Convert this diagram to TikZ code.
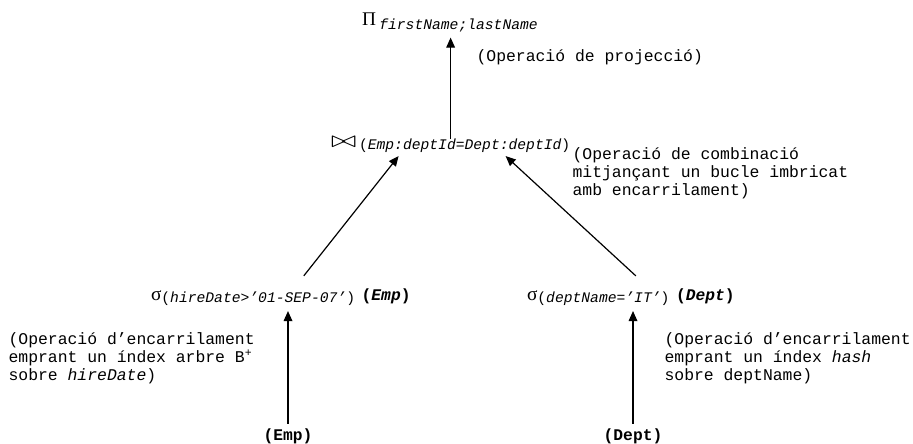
\documentclass[tikz,border=0pt]{standalone}
\usepackage{fontspec}
\setmainfont{Liberation Serif}
\setmonofont{Liberation Mono}
\usetikzlibrary{arrows.meta, calc, positioning}

\newcommand{\notefont}{\ttfamily\fontsize{12.3}{13.5}\selectfont}
\newcommand{\subfont}{\ttfamily\itshape\fontsize{11}{12}\selectfont}
\newcommand{\relfont}{\ttfamily\bfseries\fontsize{12.2}{13}\selectfont}
\newcommand{\opfont}{\fontsize{14.5}{15}\selectfont}
\newcommand{\subpar}[1]{\raisebox{-2pt}{\subfont{\upshape(}#1{\upshape)}}}

\tikzset{
  note/.style={anchor=west, inner sep=0pt, align=left, font=\notefont},
  op/.style={anchor=base west, inner sep=0pt, outer xsep=0pt, outer ysep=4pt},
  rel/.style={inner sep=3pt, font=\relfont},
}

\begin{document}
\begin{tikzpicture}[x=0.75pt, y=-0.75pt, >={Triangle[length=7.5pt,width=6.5pt]}, line width=0.9pt]
    \useasboundingbox (0,0) rectangle (913,443);

    % Operations
    \node[op] (proj) at (362,25) {{\opfont Π}\hspace{2.5pt}\raisebox{-3.5pt}{\subfont firstName;lastName}};
    \node[op] (join) at (331,147) {\resizebox{19pt}{8pt}{$\bowtie$}\hspace{2pt}\subpar{Emp:deptId=Dept:deptId}};
    \node[op] (selEmp) at (151,300) {{\opfont σ}\subpar{hireDate>’01-SEP-07’}\hspace{5pt}{\relfont(\textit{Emp})}};
    \node[op] (selDept) at (527,300) {{\opfont σ}\subpar{deptName=’IT’}\hspace{5pt}{\relfont(\textit{Dept})}};

    % Relations
    \node[rel] (emp) at (288,436) {(Emp)};
    \node[rel] (dept) at (633,436) {(Dept)};

    % Notes
    \node[note] (projNote) at (476,57) {(Operació de projecció)};
    \node[note] (joinNote) at (572,173) {(Operació de combinació\\mitjançant un bucle imbricat\\amb encarrilament)};
    \node[note] (empNote) at (8,358) {(Operació d’encarrilament\\emprant un índex arbre B\textsuperscript{+}\\sobre \textit{hireDate})};
    \node[note] (deptNote) at (664,358) {(Operació d’encarrilament\\emprant un índex \textit{hash}\\sobre deptName)};

    % Connections
    \draw[->] (emp.north) -- (emp.north |- selEmp.south);
    \draw[->] (dept.north) -- (dept.north |- selDept.south);
    \draw[->] ([shift={(23,-7)}]selEmp.north) -- ([shift={(-52,-2)}]join.south);
    \draw[->] ([shift={(5,-7)}]selDept.north) -- ([shift={(55,-2)}]join.south);
    \draw[->] ([yshift=-6pt]join.north) -- (join.north |- proj.south);

\end{tikzpicture}
\end{document}
